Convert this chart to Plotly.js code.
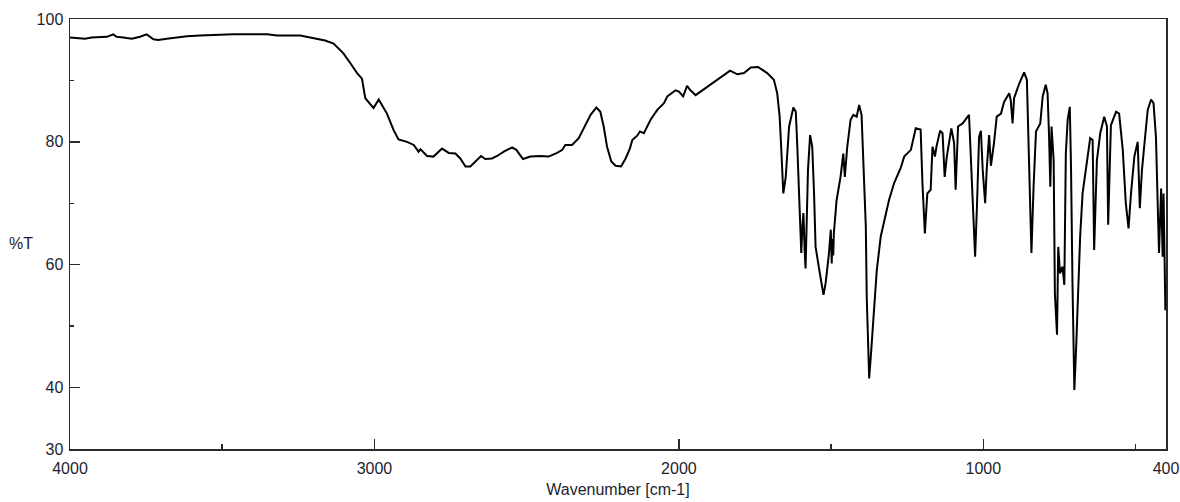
<!DOCTYPE html>
<html>
<head>
<meta charset="utf-8">
<script src="https://cdn.plot.ly/plotly-3.0.1.min.js"></script>
<style>
html,body{margin:0;padding:0;background:#fff;}
#chart{width:1180px;height:502px;}
</style>
</head>
<body>
<div id="chart"></div>
<script>
// Wavenumber (cm-1) and transmittance (%T)
const wavenumber = [
4000,3951,3929,3879,3858,3847,3825,3797,3770,3748,3726,3710,3682,3649,3616,3573,3518,3463,3353,3320,3244,3200,3162,3134,3102,3079,3057,3041,3030,3003,2986,2959,2937,
2921,2893,2871,2855,2849,2827,2806,2778,2756,2734,2718,2701,2685,2669,2650,2636,2614,2597,2575,2548,2534,2512,2488,2455,2428,2400,2383,2373,2351,2329,2307,2290,2271,2258,2247,2236,2222,2208,2190,2175,2161,2153,2137,2128,2115,2093,2071,2049,2038,2011,2000,1986,1973,1962,1945,1923,1898,1885,1863,1832,1808,1786,1764,1740,1710,1688,1677,
1669,1663,1657,1649,1638,1624,1616,1611,1602,1598,1594,1591,1587,1584,1580,1576,1569,1562,1556,1551,1537,1525,1518,1507,1501,1498,1496,1493,1491,1482,1469,1460,1455,1447,1436,1427,1416,1408,1400,1394,1386,1383,1375,1370,1361,1350,1337,1321,1310,1293,1271,1260,1238,1222,1206,
1200,1192,1184,1173,1167,1159,1154,1142,1134,1127,1120,1105,1096,1091,1083,1068,1047,1041,1035,1027,1021,1014,1008,1002,994,989,981,975,965,956,942,932,915,910,904,899,882,866,857,853,849,842,835,827,813,805,795,789,784,780,776,769,765,758,754,748,740,734,729,723,716,712,707,701,695,688,682,674,660,649,641,636,627,616,603,594,590,581,564,554,542,532,523,515,504,493,486,479,469,460,449,441,433,427,423,416,411,408,402,400
];
const transmittance = [
97.0,96.8,97.0,97.1,97.5,97.1,97.0,96.8,97.1,97.5,96.7,96.6,96.8,97.0,97.2,97.3,97.4,97.5,97.5,97.3,97.3,96.9,96.5,96.0,94.4,92.8,91.2,90.3,87.1,85.5,86.9,84.6,81.9,
80.4,80.0,79.5,78.4,78.8,77.7,77.6,78.9,78.2,78.1,77.3,76.0,76.0,76.8,77.7,77.2,77.3,77.7,78.4,79.1,78.7,77.2,77.6,77.7,77.6,78.2,78.7,79.5,79.5,80.6,82.7,84.4,85.6,84.9,82.5,79.2,76.8,76.1,76.0,77.3,78.9,80.3,81.0,81.7,81.4,83.6,85.2,86.3,87.4,88.4,88.2,87.4,89.1,88.4,87.6,88.4,89.3,89.8,90.6,91.6,91.0,91.2,92.1,92.2,91.2,90.1,87.9,
84.1,78.1,71.6,74.3,82.5,85.6,84.9,79.2,67.3,61.9,66.5,68.4,62.5,59.4,67.3,75.4,81.1,79.2,71.6,62.9,58.6,55.1,57.0,61.9,65.7,60.2,64.2,61.5,65.1,70.5,74.3,78.1,74.3,79.2,83.6,84.4,84.1,86.0,84.4,76.0,66.2,54.8,41.5,44.8,51.0,59.1,64.6,67.8,70.5,73.3,75.8,77.6,78.7,82.2,82.0,
73.3,65.1,71.6,72.2,79.2,77.6,79.2,81.8,81.4,74.3,77.6,82.2,79.8,72.2,82.5,83.0,84.4,77.0,70.0,61.3,69.4,80.8,81.8,75.4,70.0,75.4,81.1,76.1,79.8,84.1,84.6,86.5,87.9,86.8,83.0,87.1,89.5,91.3,90.1,81.9,74.6,61.9,72.7,81.7,83.0,87.4,89.3,87.9,80.8,72.7,82.5,77.0,55.3,48.6,62.9,58.6,59.7,56.7,78.1,83.6,85.7,76.0,56.4,39.6,46.7,56.4,64.6,71.6,77.0,80.6,80.3,62.4,77.0,81.4,84.1,82.5,66.5,82.7,84.9,84.6,78.7,70.0,65.9,71.6,77.6,80.0,69.2,75.4,80.6,85.2,86.9,86.3,80.8,71.1,61.9,72.4,61.3,71.6,52.6,53.0
];
const xTickVals = [4000, 3000, 2000, 1000, 400];
const xTickText = ['4000', '3000', '2000', '1000', '400'];
const xMinorVals = [3500, 1500, 500];
const yTickVals = [100, 80, 60, 40, 30];
const yTickText = ['100', '80', '60', '40', '30'];
const yMinorVals = [90, 70, 50];

const axisColor = '#2a2a2a';
const labelFont = {family: 'Liberation Sans, Arial, sans-serif', size: 16, color: '#1e1e30'};

const trace = {
  x: wavenumber, y: transmittance, type: 'scatter', mode: 'lines',
  line: {color: '#000', width: 2}, hoverinfo: 'skip'
};

const layout = {
  width: 1180, height: 502,
  margin: {l: 70, r: 14, t: 19, b: 53},
  paper_bgcolor: '#fff', plot_bgcolor: '#fff',
  showlegend: false,
  xaxis: {
    range: [4000, 400], showgrid: false, zeroline: false,
    showline: true, mirror: true, linecolor: axisColor, linewidth: 1.5,
    tickmode: 'array', tickvals: xTickVals, ticktext: xTickText,
    ticks: 'inside', ticklen: 10, tickwidth: 1.5, tickcolor: axisColor,
    minor: {tickmode: 'array', tickvals: xMinorVals, ticks: 'inside', ticklen: 5, tickwidth: 1.5, tickcolor: axisColor, showgrid: false},
    tickfont: labelFont, ticklabelstandoff: 4,
    title: {text: 'Wavenumber [cm-1]', font: labelFont, standoff: 8}
  },
  yaxis: {
    range: [30, 100], showgrid: false, zeroline: false,
    showline: true, mirror: true, linecolor: axisColor, linewidth: 1.5,
    tickmode: 'array', tickvals: yTickVals, ticktext: yTickText,
    ticks: 'inside', ticklen: 10, tickwidth: 1.5, tickcolor: axisColor,
    minor: {tickmode: 'array', tickvals: yMinorVals, ticks: 'inside', ticklen: 4, tickwidth: 1.5, tickcolor: axisColor, showgrid: false},
    tickfont: labelFont, ticklabelstandoff: 2
  },
  annotations: [{
    text: '%T', xref: 'paper', yref: 'paper', x: -0.0575, y: 0.479,
    xanchor: 'left', yanchor: 'middle', showarrow: false, font: labelFont
  }]
};

Plotly.newPlot('chart', [trace], layout, {displayModeBar: false, staticPlot: true});
</script>
</body>
</html>
